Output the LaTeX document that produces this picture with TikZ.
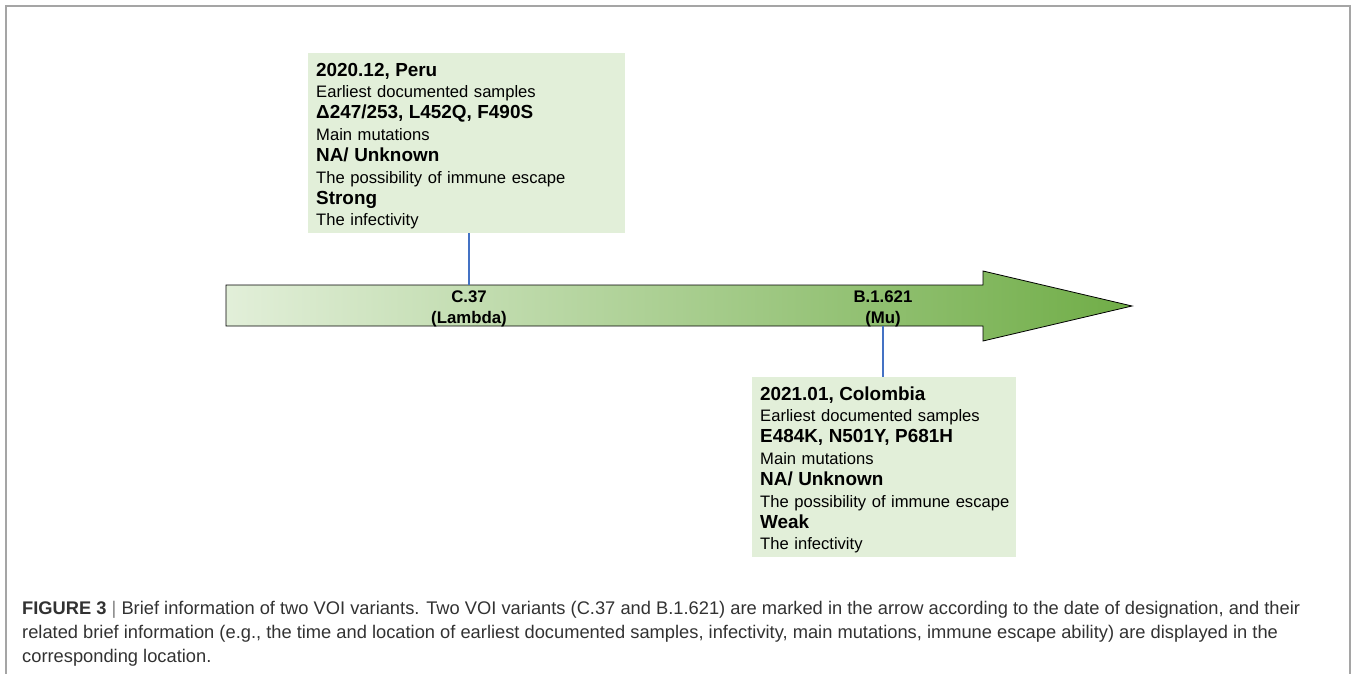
\documentclass[tikz,border=0pt]{standalone}
\usepackage{fontspec}
\setmainfont{Liberation Sans}
\definecolor{boxgreen}{RGB}{226,239,217}
\definecolor{darkgreen}{RGB}{112,173,71}
\definecolor{connblue}{RGB}{68,114,196}
\definecolor{frame}{RGB}{165,165,165}
\definecolor{captext}{RGB}{50,50,50}
\tikzset{
  infobox/.style={fill=boxgreen, draw=none, anchor=north west, align=left,
    inner xsep=8pt, inner ysep=0pt, font=\fontsize{16.6}{21.4}\selectfont},
  varlabel/.style={align=center, font=\fontsize{16.8}{21}\selectfont\bfseries},
  conn/.style={draw=connblue, line width=1.6pt}
}
\newcommand{\hdl}[1]{{\fontsize{18.9}{21.4}\selectfont\bfseries #1}}
\begin{document}
\begin{tikzpicture}[x=1pt,y=-1pt]
\useasboundingbox (0,0) rectangle (1354,674);
\draw[frame, line width=1.3pt] (6,674) -- (6,6) -- (1350,6) -- (1350,674);
% arrow
\shadedraw[left color=boxgreen, right color=darkgreen, draw=black, line width=0.8pt]
  (226,285) -- (983,285) -- (983,271) -- (1132,306) -- (983,341) -- (983,326) -- (226,326) -- cycle;
\coordinate (a1) at (469,285);
\coordinate (a2) at (883,326);
\node[varlabel] (c37) at (469,309) {C.37\\(Lambda)};
\node[varlabel] (mu) at (883,309) {B.1.621\\(Mu)};
% boxes
\node[infobox, minimum width=317pt, minimum height=180pt, text width=301pt] (tb) at (308,53)
 {\rule{0pt}{19pt}\hdl{2020.12, Peru}\\Earliest documented samples\\\hdl{Δ247/253, L452Q, F490S}\\Main mutations\\\hdl{NA/ Unknown}\\\mbox{The possibility of immune escape}\\\hdl{Strong}\\The infectivity};
\node[infobox, minimum width=264pt, minimum height=180pt, text width=248pt] (bb) at (752,377)
 {\rule{0pt}{19pt}\hdl{2021.01, Colombia}\\Earliest documented samples\\\hdl{E484K, N501Y, P681H}\\Main mutations\\\hdl{NA/ Unknown}\\\mbox{The possibility of immune escape}\\\hdl{Weak}\\The infectivity};
\draw[conn] (a1 |- tb.south) -- (a1);
\draw[conn] (a2) -- (a2 |- bb.north);
% caption
\node[anchor=north west, align=left, text=captext, inner sep=0pt,
  font=\fontsize{18.3}{24}\selectfont] (cap) at (22,601.5)
 {{\bfseries FIGURE 3}\ \textcolor{gray}{|}\ Brief information of two VOI variants. Two VOI variants (C.37 and B.1.621) are marked in the arrow according to the date of designation, and their\\
 related brief information (e.g., the time and location of earliest documented samples, infectivity, main mutations, immune escape ability) are displayed in the\\
 corresponding location.};
\end{tikzpicture}
\end{document}
